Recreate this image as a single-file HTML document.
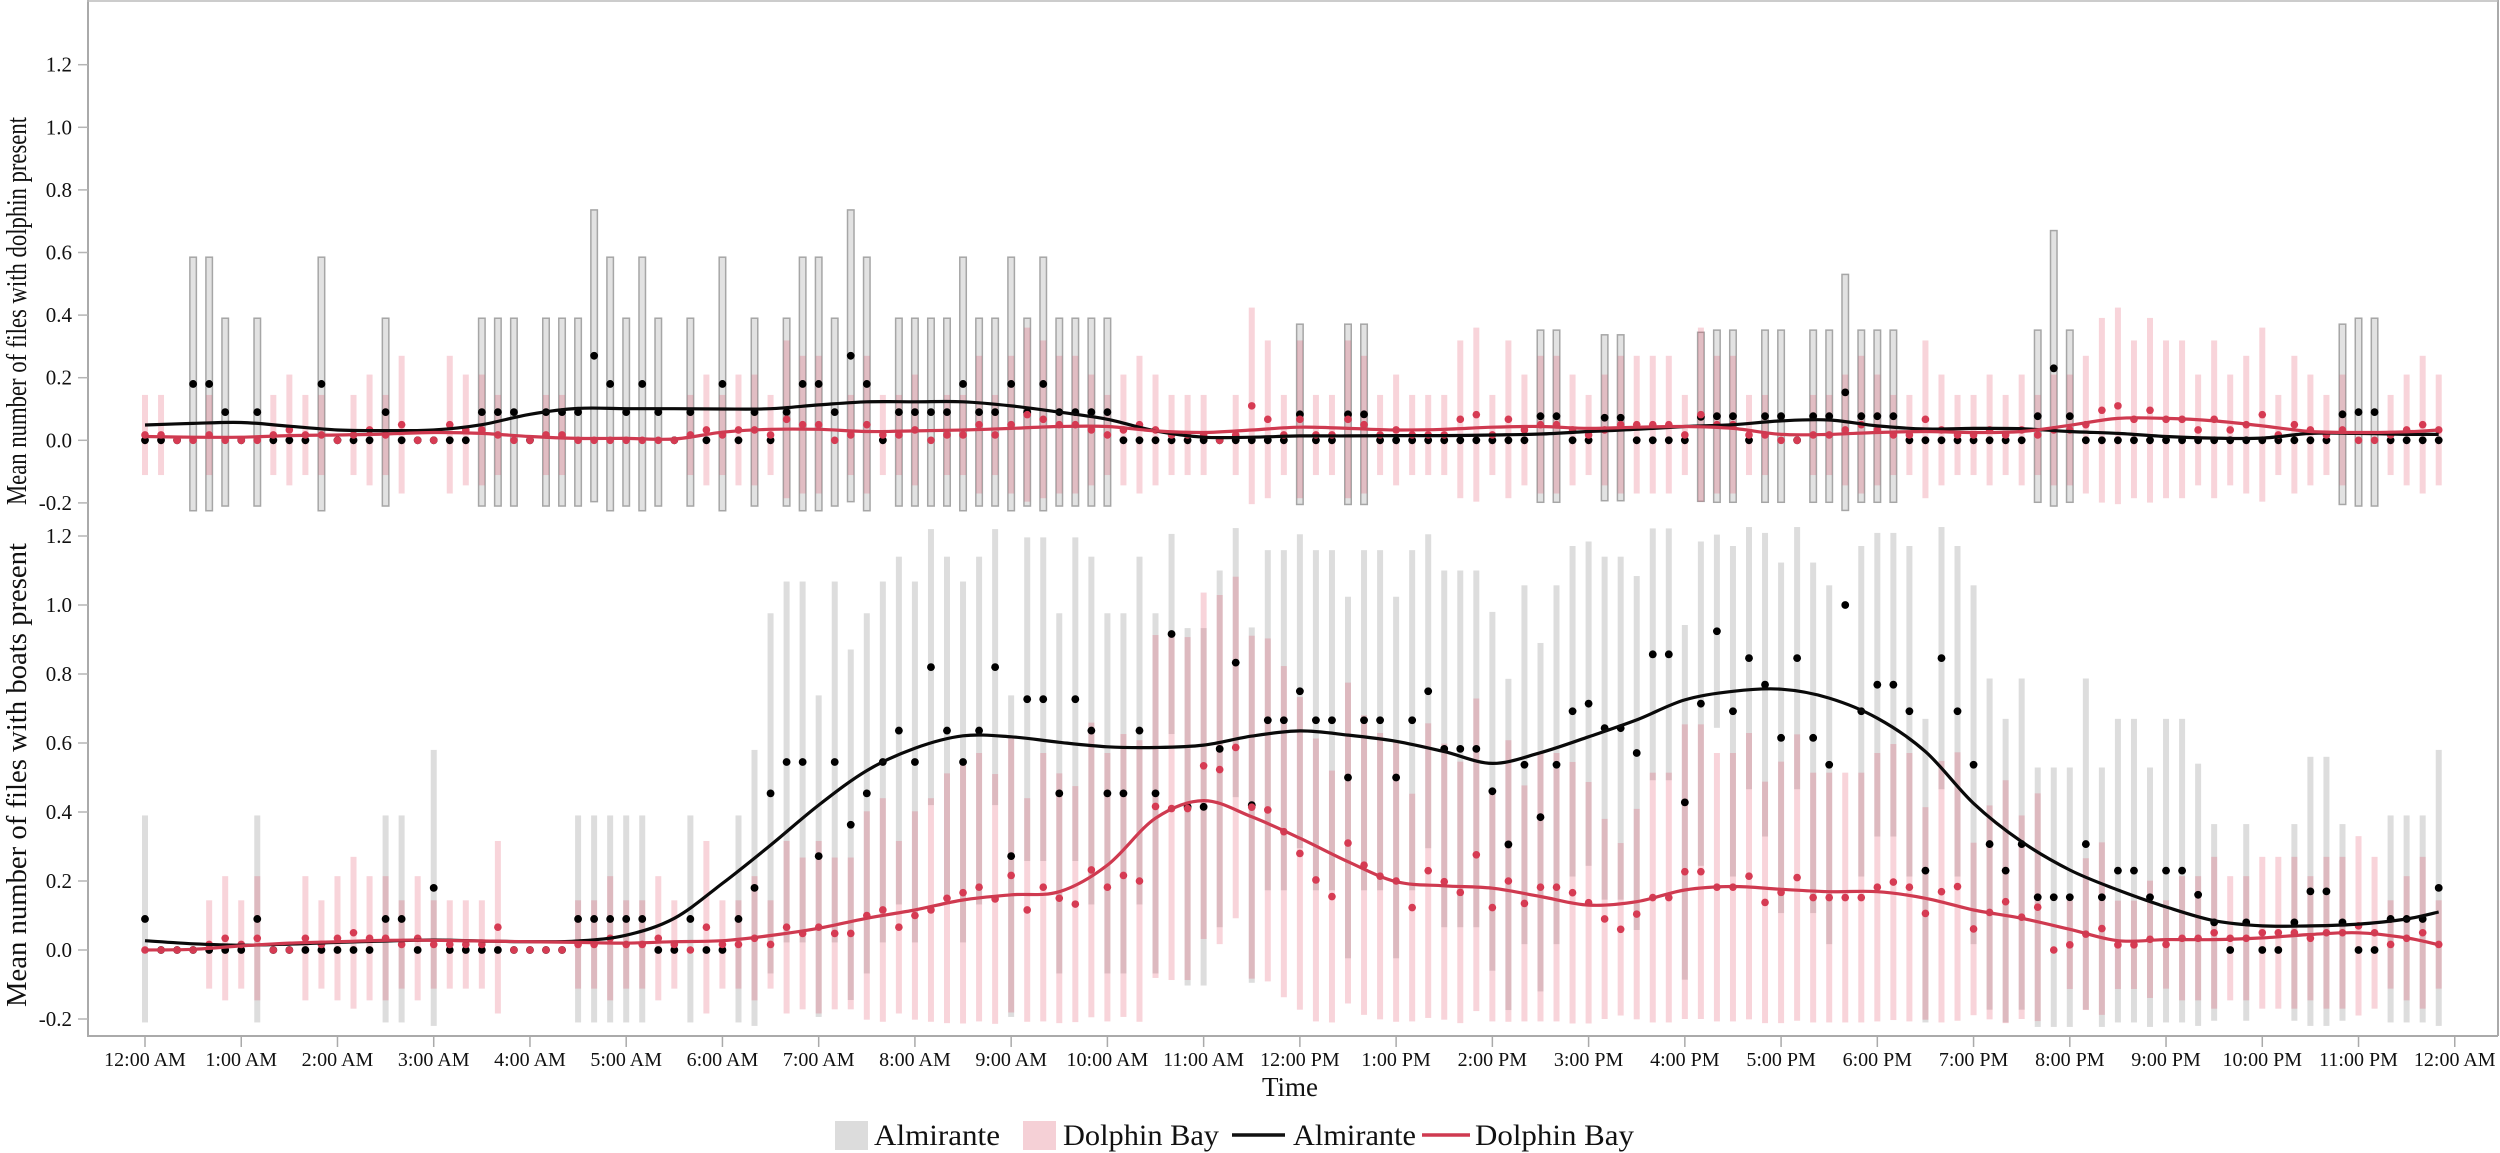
<!DOCTYPE html>
<html lang="en">
<head>
<meta charset="utf-8">
<title>Mean number of files with dolphin and boats present by time of day</title>
<style>
html,body{margin:0;padding:0;background:#fff;}
svg{display:block;}
text{font-family:"Liberation Serif",serif;fill:#111;}
</style>
</head>
<body>
<svg id="chart" xmlns="http://www.w3.org/2000/svg" width="2500" height="1153" viewBox="0 0 2500 1153">
  <rect x="0" y="0" width="2500" height="1153" fill="#fff"/>
  <g id="bars-layer"></g>
  <g id="points-layer"></g>
  <g id="lines-layer"></g>
  <g id="axes-layer">
    <line x1="88" y1="0" x2="88" y2="1036" stroke="#aaa" stroke-width="2"/>
    <line x1="87" y1="1036" x2="2498" y2="1036" stroke="#aaa" stroke-width="2"/>
    <line x1="2498" y1="0" x2="2498" y2="1036" stroke="#aaa" stroke-width="2"/>
    <line x1="87" y1="1" x2="2498" y2="1" stroke="#bbb" stroke-width="1.5"/>
  </g>
  <text transform="translate(26,505) rotate(-90)" font-size="28" textLength="388" lengthAdjust="spacingAndGlyphs">Mean number of files with dolphin present</text>
  <text transform="translate(26,1007) rotate(-90)" font-size="28" textLength="464" lengthAdjust="spacingAndGlyphs">Mean number of files with boats present</text>
  <text x="1290" y="1096" font-size="27" text-anchor="middle">Time</text>
  <g>
    <rect x="835" y="1121" width="33" height="29" fill="#dcdcdc"/>
    <text x="874" y="1145" font-size="30" textLength="126" lengthAdjust="spacingAndGlyphs">Almirante</text>
    <rect x="1023" y="1121" width="33" height="29" fill="#f5d0d6"/>
    <text x="1063" y="1145" font-size="30" textLength="156" lengthAdjust="spacingAndGlyphs">Dolphin Bay</text>
    <line x1="1232" y1="1135" x2="1285" y2="1135" stroke="#111" stroke-width="3.5"/>
    <text x="1293" y="1145" font-size="30" textLength="123" lengthAdjust="spacingAndGlyphs">Almirante</text>
    <line x1="1422" y1="1135" x2="1470" y2="1135" stroke="#cf3a50" stroke-width="3.5"/>
    <text x="1475" y="1145" font-size="30" textLength="159" lengthAdjust="spacingAndGlyphs">Dolphin Bay</text>
  </g>
</svg>
<script>
// ---- Tick labels ----
const hourLabels = ["12:00 AM","1:00 AM","2:00 AM","3:00 AM","4:00 AM","5:00 AM","6:00 AM","7:00 AM","8:00 AM","9:00 AM","10:00 AM","11:00 AM","12:00 PM","1:00 PM","2:00 PM","3:00 PM","4:00 PM","5:00 PM","6:00 PM","7:00 PM","8:00 PM","9:00 PM","10:00 PM","11:00 PM","12:00 AM"];
const yTickValues = [-0.2,0,0.2,0.4,0.6,0.8,1.0,1.2];

// ---- Dolphin panel: 10-minute means and CI half-widths ----
const topAlmMean = [0,0,0,.18,.18,.09,0,.09,0,0,0,.18,
0,0,0,.09,0,0,0,0,0,.09,.09,.09,
0,.09,.09,.09,.27,.18,.09,.18,.09,0,.09,0,
.18,0,.09,0,.09,.18,.18,.09,.27,.18,0,.09,
.09,.09,.09,.18,.09,.09,.18,.09,.18,.09,.09,.09,
.09,0,0,0,0,0,0,0,0,0,0,0,
.083,0,0,.083,.083,0,0,0,0,0,0,0,
0,0,0,.077,.077,0,0,.072,.072,0,0,0,
0,.075,.077,.077,0,.077,.077,0,.077,.077,.153,.077,
.077,.077,0,0,0,0,0,0,0,0,.077,.23,
.077,0,0,0,0,0,0,0,0,0,0,0,
0,0,0,0,0,.083,.09,.09,0,0,0,0];
const topAlmCi = [0,0,0,.405,.405,.3,0,.3,0,0,0,.405,
0,0,0,.3,0,0,0,0,0,.3,.3,.3,
0,.3,.3,.3,.466,.405,.3,.405,.3,0,.3,0,
.405,0,.3,0,.3,.405,.405,.3,.466,.405,0,.3,
.3,.3,.3,.405,.3,.3,.405,.3,.405,.3,.3,.3,
.3,0,0,0,0,0,0,0,0,0,0,0,
.288,0,0,.288,.288,0,0,0,0,0,0,0,
0,0,0,.275,.275,0,0,.265,.265,0,0,0,
0,.27,.275,.275,0,.275,.275,0,.275,.275,.377,.275,
.275,.275,0,0,0,0,0,0,0,0,.275,.44,
.275,0,0,0,0,0,0,0,0,0,0,0,
0,0,0,0,0,.288,.3,.3,0,0,0,0];
const topDolMean = [.017,.017,0,0,.017,0,0,0,.017,.033,.017,.017,
0,.017,.033,.017,.05,0,0,.05,.033,.033,.017,0,
0,.017,.017,0,0,0,0,0,0,0,.017,.033,
.017,.033,.033,.017,.067,.05,.05,0,.017,.05,.017,.017,
.033,0,.017,.017,.05,.017,.05,.082,.067,.05,.05,.033,
.017,.033,.05,.033,.017,.017,.017,0,.017,.11,.067,.017,
.067,.017,.017,.067,.05,.017,.033,.017,.017,.017,.067,.082,
.017,.067,.033,.05,.05,.033,.017,.033,.05,.05,.05,.05,
.017,.082,.05,.05,.017,.017,0,0,.017,.017,.033,.05,
.033,.017,.017,.067,.033,.017,.017,.033,.017,.033,.017,.033,
.033,.05,.096,.11,.067,.096,.067,.067,.033,.067,.033,.05,
.082,.017,.05,.033,.017,.033,0,0,.017,.033,.05,.033];
const topDolCi = [.128,.128,0,0,.128,0,0,0,.128,.177,.128,.128,
0,.128,.177,.128,.22,0,0,.22,.177,.177,.128,0,
0,.128,.128,0,0,0,0,0,0,0,.128,.177,
.128,.177,.177,.128,.252,.22,.22,0,.128,.22,.128,.128,
.177,0,.128,.128,.22,.128,.22,.278,.252,.22,.22,.177,
.128,.177,.22,.177,.128,.128,.128,0,.128,.314,.252,.128,
.252,.128,.128,.252,.22,.128,.177,.128,.128,.128,.252,.278,
.128,.252,.177,.22,.22,.177,.128,.177,.22,.22,.22,.22,
.128,.278,.22,.22,.128,.128,0,0,.128,.128,.177,.22,
.177,.128,.128,.252,.177,.128,.128,.177,.128,.177,.128,.177,
.177,.22,.295,.314,.252,.295,.252,.252,.177,.252,.177,.22,
.278,.128,.22,.177,.128,.177,0,0,.128,.177,.22,.177];

// ---- Boat panel: 10-minute means and CI half-widths ----
const botAlmMean = [.09,0,0,0,0,0,0,.09,0,0,0,0,
0,0,0,.09,.09,0,.18,0,0,0,0,0,
0,0,0,.09,.09,.09,.09,.09,0,0,.09,0,
0,.09,.18,.454,.545,.545,.272,.545,.363,.454,.545,.636,
.545,.82,.636,.545,.636,.82,.272,.727,.727,.454,.727,.636,
.454,.454,.636,.454,.916,.415,.415,.583,.833,.42,.666,.666,
.75,.666,.666,.5,.666,.666,.5,.666,.75,.583,.583,.583,
.46,.306,.537,.385,.537,.692,.714,.643,.643,.571,.857,.857,
.428,.714,.924,.692,.846,.769,.615,.846,.615,.537,1.0,.692,
.769,.769,.692,.23,.846,.692,.537,.307,.23,.307,.153,.153,
.153,.307,.153,.23,.23,.153,.23,.23,.16,.08,0,.08,
0,0,.08,.17,.17,.08,0,0,.09,.09,.09,.18];
const botAlmCi = [.3,0,0,0,0,0,0,.3,0,0,0,0,
0,0,0,.3,.3,0,.4,0,0,0,0,0,
0,0,0,.3,.3,.3,.3,.3,0,0,.3,0,
0,.3,.4,.522,.523,.523,.466,.523,.508,.522,.523,.504,
.523,.4,.504,.523,.504,.4,.466,.469,.469,.522,.469,.504,
.522,.522,.504,.522,.29,.518,.518,.517,.39,.515,.493,.493,
.455,.493,.493,.524,.493,.493,.524,.493,.455,.517,.517,.517,
.52,.48,.52,.505,.52,.479,.47,.497,.497,.513,.365,.365,
.514,.47,.28,.479,.38,.44,.508,.38,.508,.52,0,.479,
.44,.44,.479,.44,.38,.479,.52,.48,.44,.48,.376,.376,
.376,.48,.376,.44,.44,.376,.44,.44,.38,.285,0,.285,
0,0,.285,.39,.39,.285,0,0,.3,.3,.3,.4];
const botDolMean = [0,0,0,0,.016,.034,.016,.034,0,0,.034,.016,
.034,.05,.034,.034,.016,.034,.016,.016,.016,.016,.066,0,
0,0,0,.016,.016,.034,.016,.016,.034,.016,0,.066,
.016,.016,.034,.016,.066,.048,.066,.048,.048,.1,.116,.066,
.1,.116,.15,.166,.182,.148,.216,.116,.182,.15,.133,.232,
.182,.216,.2,.416,.41,.41,.534,.523,.587,.414,.406,.343,
.28,.203,.155,.31,.246,.214,.2,.123,.23,.198,.167,.276,
.123,.2,.135,.182,.182,.166,.137,.09,.06,.104,.152,.152,
.227,.227,.182,.182,.214,.138,.167,.21,.152,.152,.152,.152,
.182,.197,.182,.106,.169,.184,.061,.109,.14,.095,.124,0,
.015,.046,.062,.015,.015,.031,.016,.034,.034,.05,.034,.034,
.05,.05,.05,.034,.05,.05,.07,.05,.016,.034,.05,.016];
const botDolCi = [0,0,0,0,.128,.18,.128,.18,0,0,.18,.128,
.18,.22,.18,.18,.128,.18,.128,.128,.128,.128,.25,0,
0,0,0,.128,.128,.18,.128,.128,.18,.128,0,.25,
.128,.128,.18,.128,.25,.22,.25,.22,.22,.302,.324,.25,
.302,.324,.362,.379,.389,.362,.397,.324,.389,.362,.342,.427,
.389,.41,.408,.497,.497,.497,.502,.506,.495,.497,.497,.48,
.453,.41,.365,.465,.434,.415,.408,.33,.427,.4,.379,.453,
.33,.408,.342,.389,.389,.379,.35,.29,.25,.305,.362,.362,
.427,.427,.389,.389,.415,.35,.379,.415,.362,.362,.362,.362,
.389,.4,.389,.308,.379,.389,.25,.31,.352,.295,.33,0,
.128,.22,.25,.128,.128,.17,.128,.18,.18,.22,.18,.18,
.22,.22,.22,.18,.22,.22,.26,.22,.128,.18,.22,.128];

// ---- Smoothed curves: one value per half hour ----
const topAlmSmooth = [.049,.054,.057,.045,.033,.031,.033,.05,.083,.102,.101,.101,.1,.101,.113,.123,.123,.123,.11,.09,.067,.03,.01,.01,.014,.014,.015,.015,.017,.02,.028,.035,.044,.05,.062,.065,.046,.036,.038,.037,.028,.022,.012,.007,.007,.022,.022,.019,.019];
const topDolSmooth = [.012,.01,.01,.015,.017,.02,.025,.022,.012,.006,.006,.004,.026,.035,.035,.028,.03,.033,.038,.044,.044,.03,.025,.033,.042,.038,.033,.035,.042,.044,.038,.042,.044,.038,.019,.019,.025,.028,.025,.028,.048,.07,.07,.062,.046,.028,.025,.027,.033];
const botAlmSmooth = [.027,.018,.014,.017,.022,.026,.029,.026,.024,.026,.043,.092,.193,.304,.42,.52,.585,.621,.618,.602,.589,.587,.594,.62,.635,.623,.605,.575,.541,.572,.618,.667,.725,.75,.756,.73,.672,.575,.425,.314,.232,.174,.125,.085,.07,.07,.075,.09,.11];
const botDolSmooth = [0,.002,.012,.02,.024,.028,.028,.026,.024,.022,.02,.024,.027,.042,.063,.092,.116,.145,.16,.169,.246,.382,.433,.386,.324,.256,.198,.186,.179,.155,.13,.14,.174,.184,.176,.169,.169,.15,.116,.092,.06,.027,.03,.03,.035,.045,.05,.035,.015];

// ---- Axis functions ----
const xHour = h => 145 + 96.24 * h;
const xBin = i => xHour(i / 6);
const yTop = v => 440.3 - 313 * v;
const yBot = v => 950 - 345 * v;

const NS = 'http://www.w3.org/2000/svg';
function make(tag, parent, attrs) {
  const el = document.createElementNS(NS, tag);
  for (const k in attrs) el.setAttribute(k, attrs[k]);
  parent.appendChild(el);
  return el;
}

const barsLayer = document.getElementById('bars-layer');
const pointsLayer = document.getElementById('points-layer');
const linesLayer = document.getElementById('lines-layer');
const axesLayer = document.getElementById('axes-layer');

function drawBars(means, cis, y, width, style, name) {
  means.forEach((m, i) => {
    if (!cis[i]) return;
    const top = y(m + cis[i]);
    const bottom = y(m - cis[i]);
    const el = make('rect', barsLayer, Object.assign({x: xBin(i) - width / 2, y: top, width: width, height: bottom - top}, style));
    
    
  });
}
function drawPoints(means, y, r, fill, name) {
  means.forEach((m, i) => {
    const el = make('ellipse', pointsLayer, {cx: xBin(i), cy: y(m), rx: r, ry: r, fill: fill});
    
    
  });
}
function drawSmooth(values, y, stroke, name) {
  const pts = values.map((v, k) => [xBin(Math.min(k * 3, 143)), y(v)]);
  let d = 'M' + pts[0][0].toFixed(1) + ' ' + pts[0][1].toFixed(1);
  for (let i = 0; i < pts.length - 1; i++) {
    const p0 = pts[Math.max(i - 1, 0)], p1 = pts[i], p2 = pts[i + 1], p3 = pts[Math.min(i + 2, pts.length - 1)];
    const c1x = p1[0] + (p2[0] - p0[0]) / 6, c1y = p1[1] + (p2[1] - p0[1]) / 6;
    const c2x = p2[0] - (p3[0] - p1[0]) / 6, c2y = p2[1] - (p3[1] - p1[1]) / 6;
    d += 'C' + c1x.toFixed(1) + ' ' + c1y.toFixed(1) + ' ' + c2x.toFixed(1) + ' ' + c2y.toFixed(1) + ' ' + p2[0].toFixed(1) + ' ' + p2[1].toFixed(1);
  }
  const el = make('path', linesLayer, {d: d, fill: 'none', stroke: stroke, 'stroke-width': 3.2, 'stroke-linejoin': 'round'});
  
  
}

const RED = '#d63b53';
const PINK = {fill: 'rgb(222,60,85)', 'fill-opacity': 0.22};

// Bars
drawBars(topAlmMean, topAlmCi, yTop, 6.5, {fill: '#e2e2e2', stroke: '#a6a6a6', 'stroke-width': 1.5}, 'dolphin-almirante-ci-bar');
drawBars(topDolMean, topDolCi, yTop, 6, PINK, 'dolphin-dolphin-bay-ci-bar');
drawBars(botAlmMean, botAlmCi, yBot, 6, {fill: '#dddddd'}, 'boats-almirante-ci-bar');
drawBars(botDolMean, botDolCi, yBot, 6, PINK, 'boats-dolphin-bay-ci-bar');

// Points
drawPoints(topAlmMean, yTop, 3.9, '#000', 'dolphin-almirante-point');
drawPoints(botAlmMean, yBot, 3.9, '#000', 'boats-almirante-point');
drawPoints(topDolMean, yTop, 3.8, RED, 'dolphin-dolphin-bay-point');
drawPoints(botDolMean, yBot, 3.8, RED, 'boats-dolphin-bay-point');

// Smooth curves
drawSmooth(topAlmSmooth, yTop, '#0a0a0a', 'dolphin-almirante-smooth-line');
drawSmooth(topDolSmooth, yTop, '#cf3a50', 'dolphin-dolphin-bay-smooth-line');
drawSmooth(botAlmSmooth, yBot, '#0a0a0a', 'boats-almirante-smooth-line');
drawSmooth(botDolSmooth, yBot, '#cf3a50', 'boats-dolphin-bay-smooth-line');

// Y axes
function drawYAxis(y, prefix) {
  yTickValues.forEach(v => {
    const py = y(v);
    const tick = make('line', axesLayer, {x1: 78, x2: 88, y1: py, y2: py, stroke: '#b5b5b5', 'stroke-width': 1.5});
    
    
    const label = make('text', axesLayer, {x: 72, y: py + 7, 'font-size': 21, 'text-anchor': 'end'});
    label.textContent = v.toFixed(1);
    
    
  });
}
drawYAxis(yTop, 'dolphin');
drawYAxis(yBot, 'boats');

// X axis
hourLabels.forEach((lab, h) => {
  const px = xHour(h);
  const tick = make('line', axesLayer, {x1: px, x2: px, y1: 1036, y2: 1047, stroke: '#aaa', 'stroke-width': 1.5});
  
  
  const label = make('text', axesLayer, {x: px, y: 1066, 'font-size': 20, 'text-anchor': 'middle'});
  label.textContent = lab;
  
  
});
</script>
</body>
</html>
